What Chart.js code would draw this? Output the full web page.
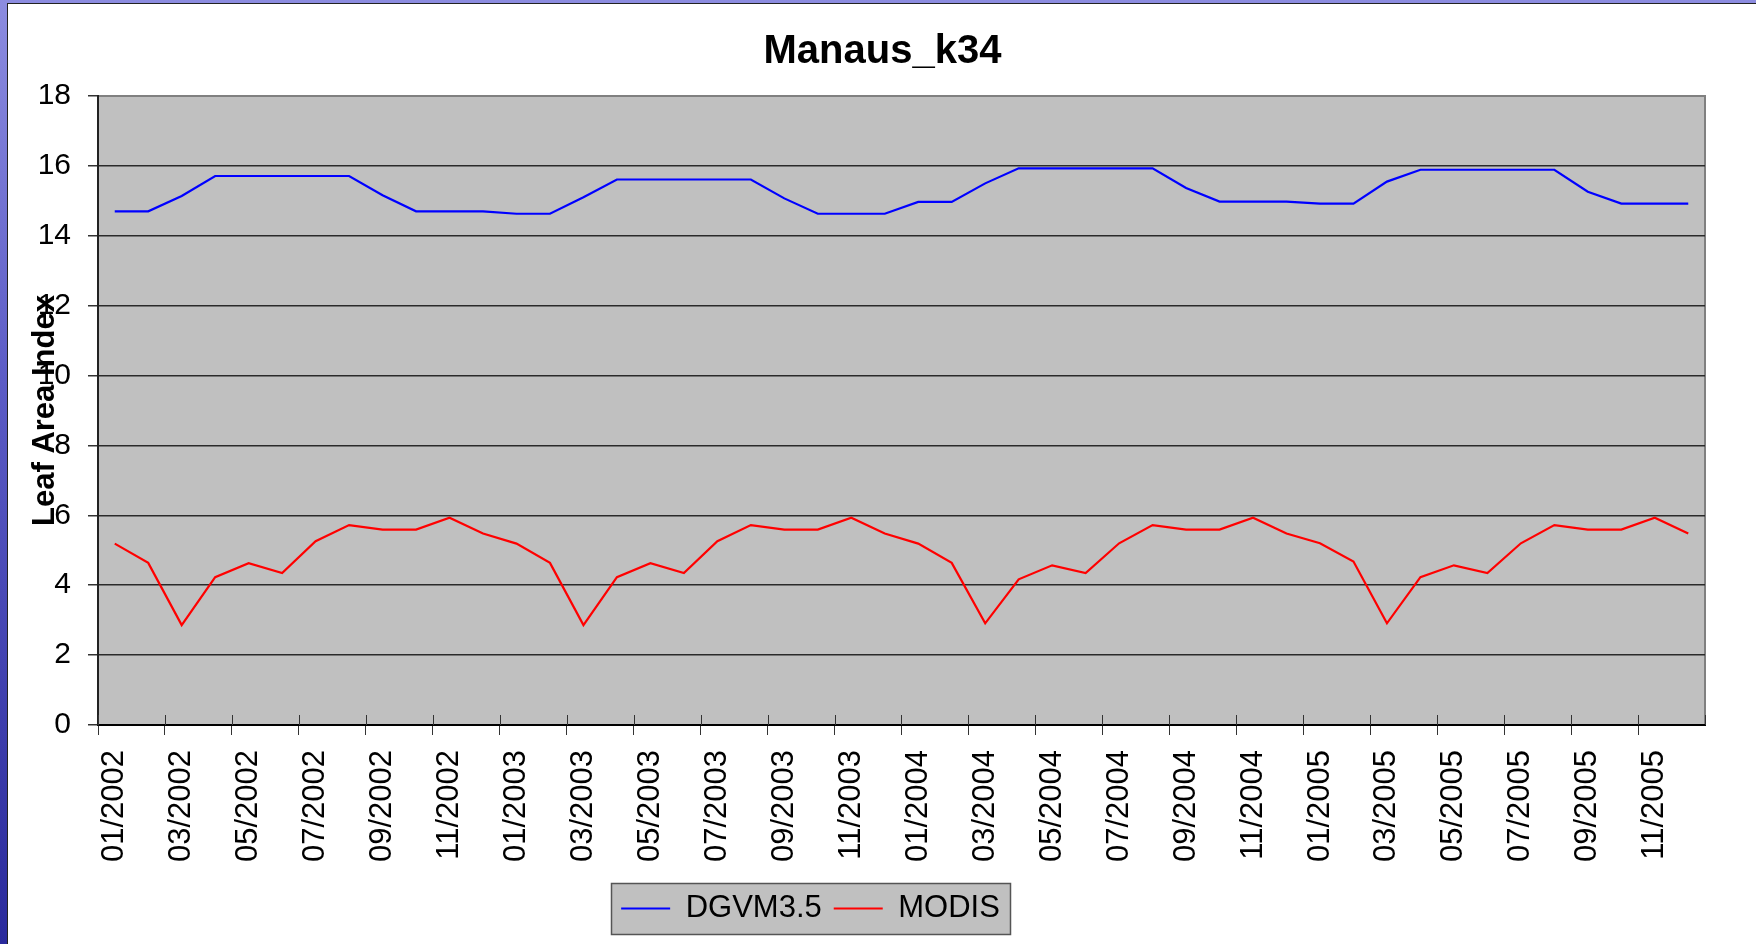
<!DOCTYPE html>
<html><head><meta charset="utf-8">
<script src="https://cdn.jsdelivr.net/npm/chart.js@4.4.1/dist/chart.umd.min.js"></script>
<style>
html,body{margin:0;padding:0;width:1756px;height:944px;overflow:hidden;}
body{background:linear-gradient(to bottom,#8c8ce0 0%,#5c5cc6 40%,#2a2a9c 100%);position:relative;}
#frame{position:absolute;left:7px;top:3px;width:1749px;height:941px;border-left:1px solid #222;border-top:1px solid #222;background:#fff;}
#c{position:absolute;left:0;top:0;display:block;}
</style></head>
<body>
<div id="frame"><canvas id="c" width="1748" height="940"></canvas></div>
<script>
const months = [
 '01/2002','02/2002','03/2002','04/2002','05/2002','06/2002','07/2002','08/2002','09/2002','10/2002','11/2002','12/2002',
 '01/2003','02/2003','03/2003','04/2003','05/2003','06/2003','07/2003','08/2003','09/2003','10/2003','11/2003','12/2003',
 '01/2004','02/2004','03/2004','04/2004','05/2004','06/2004','07/2004','08/2004','09/2004','10/2004','11/2004','12/2004',
 '01/2005','02/2005','03/2005','04/2005','05/2005','06/2005','07/2005','08/2005','09/2005','10/2005','11/2005','12/2005'
];
const dgvm = [
 14.70,14.70,15.14,15.71,15.71,15.71,15.71,15.71,15.16,14.70,14.70,14.70,
 14.63,14.63,15.10,15.61,15.61,15.61,15.61,15.61,15.07,14.63,14.63,14.63,
 14.97,14.97,15.50,15.93,15.93,15.93,15.93,15.93,15.37,14.98,14.98,14.98,
 14.92,14.92,15.55,15.89,15.89,15.89,15.89,15.89,15.26,14.92,14.92,14.92
];
const modis = [
 5.19,4.64,2.86,4.23,4.63,4.35,5.26,5.72,5.59,5.59,5.93,5.48,
 5.19,4.64,2.86,4.23,4.63,4.35,5.26,5.72,5.59,5.59,5.93,5.48,
 5.19,4.64,2.91,4.17,4.57,4.35,5.20,5.72,5.59,5.59,5.93,5.48,
 5.20,4.68,2.91,4.23,4.57,4.35,5.20,5.72,5.59,5.59,5.93,5.48
];
const yTicks = [0,2,4,6,8,10,12,14,16,18];
const seriesNames = ['DGVM3.5','MODIS'];
const chartTitle = 'Manaus_k34';
const yTitle = 'Leaf Area Index';

const FONT = "'Liberation Sans', Arial, Helvetica, sans-serif";
Chart.defaults.font.family = FONT;
Chart.defaults.color = '#000';

const decor = {
  id: 'decor',
  afterLayout(chart) {
    const lg = chart.legend;
    if (lg) { lg.left -= 46; lg.right -= 46; }
    const tt = chart.titleBlock;
    if (tt) { tt.left += 26; tt.right += 26; }
  },
  beforeDraw(chart) {
    const {ctx, chartArea: a} = chart;
    ctx.save();
    ctx.fillStyle = '#c0c0c0';
    ctx.fillRect(a.left, a.top, a.width, a.height);
    ctx.strokeStyle = '#808080';
    ctx.lineWidth = 2;
    ctx.strokeRect(a.left, a.top, a.width, a.height);
    const hb = chart.legend && chart.legend.legendHitBoxes;
    if (hb && hb.length) {
      let l = Infinity, r = -Infinity, t = Infinity, b = -Infinity;
      hb.forEach(h => { l = Math.min(l, h.left); r = Math.max(r, h.left + h.width); t = Math.min(t, h.top); b = Math.max(b, h.top + h.height); });
      const x0 = Math.round(l - 10) + 0.5, y0 = Math.round(t - 10) + 0.5;
      const w = Math.round(r - l + 20), h = Math.round(b - t + 20);
      ctx.fillStyle = '#c0c0c0';
      ctx.fillRect(x0, y0, w, h);
      ctx.strokeStyle = '#555';
      ctx.lineWidth = 1.5;
      ctx.strokeRect(x0, y0, w, h);
    }
    ctx.restore();
  },
  afterDraw(chart) {
    const {ctx, chartArea: a} = chart;
    const xs = chart.scales.x;
    ctx.save();
    const step = xs.getPixelForValue(1) - xs.getPixelForValue(0);
    ctx.strokeStyle = '#333';
    ctx.lineWidth = 1;
    for (let i = 0; i <= months.length; i += 2) {
      const x = Math.round(xs.getPixelForValue(i) - step / 2) + 0.5;
      ctx.beginPath();
      ctx.moveTo(x, a.bottom);
      ctx.lineTo(x, a.bottom - 10);
      ctx.stroke();
    }
    ctx.translate(a.left - 53, (a.top + a.bottom) / 2);
    ctx.rotate(-Math.PI / 2);
    ctx.fillStyle = '#000';
    ctx.font = 'bold 31px ' + FONT;
    ctx.textAlign = 'center';
    ctx.textBaseline = 'middle';
    ctx.fillText(yTitle, 0, 0);
    ctx.restore();
  }
};

new Chart(document.getElementById('c'), {
  type: 'line',
  data: {
    labels: months,
    datasets: [
      { label: seriesNames[0], data: dgvm, borderColor: '#0000ff', backgroundColor: '#0000ff', borderWidth: 2.2, pointRadius: 0, tension: 0, fill: false },
      { label: seriesNames[1], data: modis, borderColor: '#ff0000', backgroundColor: '#ff0000', borderWidth: 2.2, pointRadius: 0, tension: 0, fill: false }
    ]
  },
  options: {
    responsive: false,
    animation: false,
    events: [],
    layout: { padding: { left: 0, right: 51, top: 0, bottom: 10 } },
    plugins: {
      title: { display: true, text: chartTitle, color: '#000', font: { family: FONT, size: 40, weight: 'bold' }, padding: { top: 24, bottom: 20 } },
      legend: {
        display: true, position: 'bottom',
        labels: { usePointStyle: true, pointStyle: 'line', pointStyleWidth: 49, color: '#000', font: { family: FONT, size: 31 }, padding: 12 }
      },
      tooltip: { enabled: false }
    },
    scales: {
      x: {
        type: 'category',
        offset: true,
        afterFit(s) { s.height = 156; },
        grid: {
          offset: true, drawOnChartArea: false, drawTicks: true, tickLength: 10,
          color: (c) => (c.index % 2 === 0 ? '#333' : 'rgba(0,0,0,0)'), lineWidth: 1
        },
        border: { display: true, color: '#000', width: 2 },
        ticks: {
          autoSkip: false, maxRotation: 90, minRotation: 90, padding: 15,
          color: '#000', font: { family: FONT, size: 31 },
          callback: (v, i) => (i % 2 === 0 ? months[i] : '')
        }
      },
      y: {
        min: 0, max: 18,
        afterFit(s) { s.width = 90; },
        afterBuildTicks(s) { s.ticks = yTicks.map(v => ({ value: v })); },
        grid: {
          drawOnChartArea: true, drawTicks: true, tickLength: 10, tickColor: '#333',
          color: (c) => (c.tick && c.tick.value === 18 ? '#808080' : '#2a2a2a'), lineWidth: 1.5
        },
        border: { display: true, color: '#222', width: 2 },
        ticks: { padding: 17, color: '#000', font: { family: FONT, size: 30 } }
      }
    }
  },
  plugins: [decor]
});
</script>
</body></html>
